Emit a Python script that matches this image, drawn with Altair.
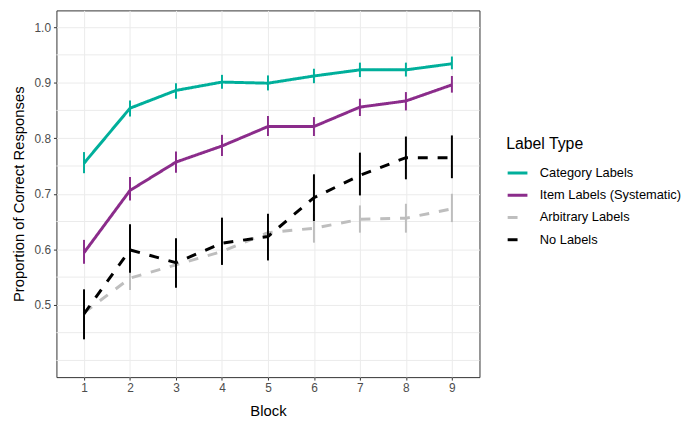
import altair as alt
import pandas as pd

blocks = [1, 2, 3, 4, 5, 6, 7, 8, 9]
types = ["Category Labels", "Item Labels (Systematic)", "Arbitrary Labels", "No Labels"]

cat_mean = [0.755, 0.854, 0.886, 0.901, 0.899, 0.912, 0.923, 0.923, 0.934]
cat_lo = [0.737, 0.839, 0.871, 0.889, 0.886, 0.899, 0.910, 0.911, 0.924]
cat_hi = [0.775, 0.868, 0.899, 0.914, 0.913, 0.925, 0.936, 0.936, 0.947]

item_mean = [0.594, 0.706, 0.757, 0.786, 0.821, 0.821, 0.856, 0.867, 0.896]
item_lo = [0.574, 0.688, 0.738, 0.768, 0.804, 0.804, 0.840, 0.850, 0.882]
item_hi = [0.617, 0.730, 0.776, 0.806, 0.840, 0.838, 0.871, 0.883, 0.912]

arb_mean = [0.486, 0.548, 0.572, 0.596, 0.630, 0.638, 0.654, 0.656, 0.673]
arb_lo = [0.460, 0.527, 0.546, 0.572, 0.605, 0.612, 0.630, 0.630, 0.649]
arb_hi = [0.512, 0.569, 0.599, 0.620, 0.655, 0.664, 0.679, 0.682, 0.700]

no_mean = [0.484, 0.599, 0.576, 0.611, 0.623, 0.693, 0.733, 0.765, 0.765]
no_lo = [0.438, 0.558, 0.531, 0.572, 0.580, 0.651, 0.697, 0.726, 0.728]
no_hi = [0.528, 0.645, 0.620, 0.657, 0.664, 0.735, 0.774, 0.803, 0.805]

y_major = [0.5, 0.6, 0.7, 0.8, 0.9, 1.0]
y_minor = [0.4, 0.45, 0.55, 0.65, 0.75, 0.85, 0.95]

colors = ["#00AF9B", "#8B2C8B", "#BEBEBE", "#000000"]
dashes = [[1, 0], [1, 0], [10, 10], [10, 10]]

series = [
    (types[0], cat_mean, cat_lo, cat_hi),
    (types[1], item_mean, item_lo, item_hi),
    (types[2], arb_mean, arb_lo, arb_hi),
    (types[3], no_mean, no_lo, no_hi),
]
rows = []
for t, m, lo, hi in series:
    for b, mm, l, h in zip(blocks, m, lo, hi):
        rows.append({"block": b, "type": t, "mean": mm, "lo": l, "hi": h})
df = pd.DataFrame(rows)

xscale = alt.Scale(domain=[0.4, 9.6], nice=False, zero=False)
yscale = alt.Scale(domain=[0.37, 1.03], nice=False, zero=False)

xaxis = alt.Axis(values=blocks, format="d", title="Block", grid=True)
yaxis = alt.Axis(values=y_major, format=".1f",
                 title="Proportion of Correct Responses", grid=True)

legend_kw = dict(title="Label Type", orient="none", legendX=455, legendY=127)
color = alt.Color("type:N", scale=alt.Scale(domain=types, range=colors),
                  legend=alt.Legend(**legend_kw))
dash = alt.StrokeDash("type:N", scale=alt.Scale(domain=types, range=dashes),
                      legend=alt.Legend(**legend_kw))

minor = alt.Chart(pd.DataFrame({"v": y_minor})).mark_rule(
    color="#EBEBEB", strokeWidth=1
).encode(y=alt.Y("v:Q", scale=yscale, axis=yaxis))

base = alt.Chart(df)
lines = base.mark_line(strokeWidth=3).encode(
    x=alt.X("block:Q", scale=xscale, axis=xaxis),
    y=alt.Y("mean:Q", scale=yscale, axis=yaxis),
    color=color, strokeDash=dash,
)
bars = base.mark_rule(strokeWidth=2).encode(
    x=alt.X("block:Q", scale=xscale, axis=xaxis),
    y=alt.Y("lo:Q", scale=yscale, axis=yaxis),
    y2="hi:Q",
    color=color,
)

chart = alt.layer(minor, lines, bars).properties(
    width=428, height=371,
    padding={"left": 49, "top": 0, "right": 215, "bottom": 45},
    autosize=alt.AutoSizeParams(type="none"),
).configure_view(
    stroke="#333333", strokeWidth=1
).configure_axis(
    domain=False, gridColor="#EBEBEB", gridWidth=1,
    tickColor="#333333", tickSize=3, tickWidth=1,
    labelColor="#4D4D4D", labelFont="Liberation Sans", labelFontSize=12,
    labelPadding=3,
    titleFont="Liberation Sans", titleFontSize=15, titleFontWeight="normal",
    titleColor="#000000",
).configure_axisX(
    titlePadding=10
).configure_axisY(
    titlePadding=8
).configure_legend(
    symbolType="stroke", symbolSize=400, symbolStrokeWidth=3,
    labelFont="Liberation Sans", labelFontSize=13, labelColor="#000000",
    labelOffset=11, rowPadding=3.5, padding=0,
    titleFont="Liberation Sans", titleFontSize=16, titleFontWeight="normal",
    titleColor="#000000", titlePadding=10,
)

chart.save("out.html", embed_options={"renderer": "svg", "actions": False})
